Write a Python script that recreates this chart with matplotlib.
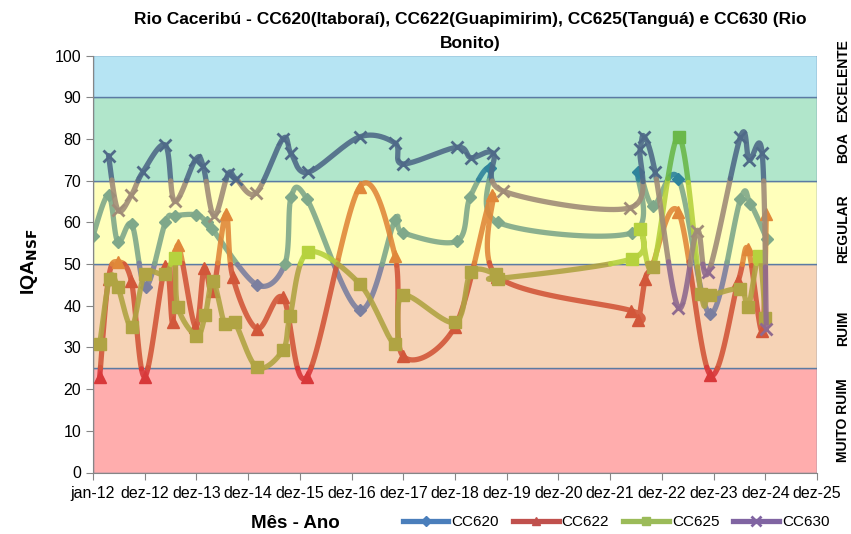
import numpy as np
import matplotlib
matplotlib.use('Agg')
import matplotlib.pyplot as plt
from matplotlib.lines import Line2D

plt.rcParams['font.family'] = ['Liberation Sans', 'DejaVu Sans']

# ---------------- data ----------------
series_names = ['CC620', 'CC622', 'CC625', 'CC630']

cc620_x = [2012.00, 2012.30, 2012.48, 2012.75, 2013.02, 2013.40, 2013.58, 2014.00, 2014.20, 2014.30,
           2015.17, 2015.71, 2015.83, 2016.14, 2017.16, 2017.84, 2017.99, 2019.04, 2019.29, 2019.68,
           2019.83, 2022.43, 2022.54, 2022.83, 2023.32, 2023.93, 2024.52, 2024.71, 2025.03]
cc620_y = [56.8, 66.5, 55.3, 59.5, 44.5, 60.0, 61.5, 61.8, 60.0, 58.5,
           45.0, 50.0, 66.0, 65.5, 39.0, 60.5, 57.5, 55.5, 66.0, 73.0,
           60.0, 57.5, 72.0, 64.0, 70.5, 38.0, 65.5, 64.5, 56.0]

cc622_x = [2012.13, 2012.30, 2012.48, 2012.74, 2013.00, 2013.40, 2013.54, 2013.64, 2013.98, 2014.15,
           2014.32, 2014.57, 2014.70, 2015.17, 2015.67, 2016.14, 2017.16, 2017.84, 2017.99, 2019.00,
           2019.72, 2019.82, 2022.41, 2022.54, 2022.68, 2022.81, 2023.32, 2023.93, 2024.48, 2024.67,
           2024.94, 2025.02]
cc622_y = [23.0, 46.5, 50.5, 46.0, 23.0, 49.5, 36.0, 54.5, 35.0, 49.0,
           43.5, 62.0, 47.0, 34.5, 42.0, 23.0, 68.5, 52.0, 28.0, 35.0,
           66.5, 47.0, 38.8, 36.5, 46.5, 49.5, 62.5, 23.5, 46.0, 53.5,
           34.0, 62.0]

cc625_x = [2012.13, 2012.32, 2012.48, 2012.75, 2013.00, 2013.40, 2013.58, 2013.64, 2014.00, 2014.17,
           2014.32, 2014.55, 2014.74, 2015.17, 2015.67, 2015.81, 2016.16, 2017.16, 2017.84, 2017.99,
           2019.00, 2019.31, 2019.80, 2019.83, 2022.43, 2022.58, 2022.83, 2023.33, 2023.76, 2023.93,
           2024.52, 2024.67, 2024.88, 2025.00]
cc625_y = [30.8, 46.5, 44.5, 35.0, 47.5, 47.5, 51.5, 39.7, 32.8, 37.7,
           46.0, 35.5, 36.0, 25.2, 29.3, 37.5, 52.8, 45.2, 30.8, 42.5,
           36.0, 48.0, 47.5, 46.5, 51.3, 58.5, 49.3, 80.5, 42.8, 42.5,
           44.0, 39.7, 52.0, 37.0]

cc630_x = [2012.30, 2012.48, 2012.74, 2012.96, 2013.40, 2013.58, 2013.98, 2014.13, 2014.34, 2014.61,
           2014.76, 2015.15, 2015.67, 2015.83, 2016.16, 2017.16, 2017.84, 2017.99, 2019.04, 2019.31,
           2019.74, 2019.93, 2022.39, 2022.58, 2022.66, 2022.87, 2023.32, 2023.68, 2023.90, 2024.52,
           2024.69, 2024.94, 2025.02]
cc630_y = [76.0, 63.0, 66.5, 72.0, 78.5, 65.0, 75.0, 73.5, 61.5, 71.5,
           70.5, 67.0, 80.0, 76.5, 72.0, 80.5, 79.0, 74.0, 78.0, 75.5,
           76.5, 67.5, 63.5, 77.5, 80.5, 72.0, 39.5, 58.0, 48.0, 80.5,
           75.0, 76.5, 34.5]

x_tick_years = list(range(2012, 2027))
x_tick_labels = ['jan-12', 'dez-12', 'dez-13', 'dez-14', 'dez-15', 'dez-16', 'dez-17', 'dez-18',
                 'dez-19', 'dez-20', 'dez-21', 'dez-22', 'dez-23', 'dez-24', 'dez-25']

band_limits = [0, 25, 50, 70, 90, 100]
band_names = ['MUITO RUIM', 'RUIM', 'REGULAR', 'BOA', 'EXCELENTE']

# ---------------- style ----------------
band_colors = ['#FFADAD', '#F6D3B6', '#FFFFBB', '#B1E6CB', '#B6E4F3']
band_label_y = [12.5, 34.5, 58.5, 78.0, 94.0]
legend_colors = ['#4A7EBB', '#C0504D', '#9BBB59', '#8064A2']
markers = ['D', '^', 's', 'x']
marker_sizes = [6.5, 8, 8, 8.5]
# per-band line colours (pink, peach, yellow, green, blue)
seg_colors = [
    ['#7b7f9f', '#7b7f9f', '#7fa88a', '#2f849c', '#2f849c'],
    ['#d8383a', '#d2573a', '#e0883a', '#e0883a', '#e0883a'],
    ['#b8983f', '#b0a443', '#b6d23e', '#6ab84a', '#6ab84a'],
    ['#8f6a8f', '#8f6a8f', '#a08c78', '#4f6a88', '#4f6a88'],
]

all_x = [cc620_x, cc622_x, cc625_x, cc630_x]
all_y = [cc620_y, cc622_y, cc625_y, cc630_y]

W, H = 851, 534
fig = plt.figure(figsize=(W / 100, H / 100), dpi=100)
L, R, B, T = 93, 817, 472.5, 55.5
ax = fig.add_axes([L / W, 1 - B / H, (R - L) / W, (B - T) / H])
ax.set_xlim(2012, 2026)
ax.set_ylim(0, 100)

# bands
for i in range(len(band_colors)):
    ax.axhspan(band_limits[i], band_limits[i + 1], facecolor=band_colors[i],
               edgecolor='#5B7BA3', linewidth=1.0, zorder=0)

# scale factors (pixels per unit) for screen-space smoothing
sx = (R - L) / 14.0
sy = (B - T) / 100.0


def smooth(xs, ys, n=30):
    P = np.column_stack([np.asarray(xs) * sx, np.asarray(ys) * sy])
    Pe = np.vstack([P[0], P, P[-1]])
    out = [P[0]]
    t = np.linspace(0, 1, n)[1:, None]
    for i in range(len(P) - 1):
        p0, p1, p2, p3 = Pe[i], Pe[i + 1], Pe[i + 2], Pe[i + 3]
        c1 = p1 + (p2 - p0) / 6.0
        c2 = p2 - (p3 - p1) / 6.0
        Bz = (1 - t) ** 3 * p1 + 3 * (1 - t) ** 2 * t * c1 + 3 * (1 - t) * t ** 2 * c2 + t ** 3 * p2
        out.extend(Bz)
    out = np.array(out)
    return out[:, 0] / sx, out[:, 1] / sy


edges = band_limits[1:-1]
for k in range(4):
    cx, cy = smooth(all_x[k], all_y[k])
    mid = (cy[:-1] + cy[1:]) / 2
    bidx = np.digitize(mid, edges)
    start = 0
    for j in range(1, len(bidx) + 1):
        if j == len(bidx) or bidx[j] != bidx[start]:
            ax.plot(cx[start:j + 1], cy[start:j + 1], color=seg_colors[k][bidx[start]],
                    lw=3.8, alpha=0.9, solid_capstyle='round', solid_joinstyle='round',
                    zorder=2 + k)
            start = j
    mb = np.digitize(all_y[k], edges)
    for xv, yv, bi in zip(all_x[k], all_y[k], mb):
        c = seg_colors[k][bi]
        if markers[k] == 'x':
            ax.plot([xv], [yv], marker='x', ms=marker_sizes[k], mew=2.0, color=c,
                    linestyle='none', zorder=2 + k)
        else:
            ax.plot([xv], [yv], marker=markers[k], ms=marker_sizes[k], color=c,
                    mec=c, linestyle='none', zorder=2 + k)

# axes styling
ax.set_xticks(x_tick_years)
ax.set_xticklabels(x_tick_labels, fontsize=11.5)
ax.set_yticks(range(0, 101, 10))
ax.tick_params(axis='y', labelsize=11.5, length=5, color='#868686', direction='out')
ax.tick_params(axis='x', length=5, color='#868686', direction='out', pad=5)
for s in ['top', 'right']:
    ax.spines[s].set_visible(False)
for s in ['left', 'bottom']:
    ax.spines[s].set_color('#868686')

# band labels at right
for name, yv in zip(band_names, band_label_y):
    ax.text(1.036, yv, name, transform=ax.get_yaxis_transform(), rotation=90,
            ha='center', va='center', fontsize=10, fontweight='bold')

# title
fig.text(0.552, 0.978,
         'Rio Caceribú - CC620(Itaboraí), CC622(Guapimirim), CC625(Tanguá) e CC630 (Rio\nBonito)',
         ha='center', va='top', fontsize=12.5, fontweight='bold', linespacing=1.75)

# axis labels
fig.text(295 / W, 1 - 523 / H, 'Mês - Ano', ha='center', va='center',
         fontsize=13.5, fontweight='bold')
fig.text(30 / W, 1 - 262 / H, r'IQA$_{\mathbf{NSF}}$', ha='center', va='center',
         rotation=90, fontsize=14, fontweight='bold')

# legend
handles = [Line2D([0], [0], color=legend_colors[k], lw=3.8, marker=markers[k],
                  ms=marker_sizes[k] * 0.8, mew=2 if markers[k] == 'x' else 1,
                  mec=legend_colors[k], mfc=legend_colors[k]) for k in range(4)]
fig.legend(handles, series_names, loc='center', bbox_to_anchor=(616 / W, 1 - 522 / H),
           ncol=4, frameon=False, fontsize=11, handlelength=3.0, handletextpad=0.2,
           columnspacing=0.9)

fig.savefig('out.png', dpi=100)
